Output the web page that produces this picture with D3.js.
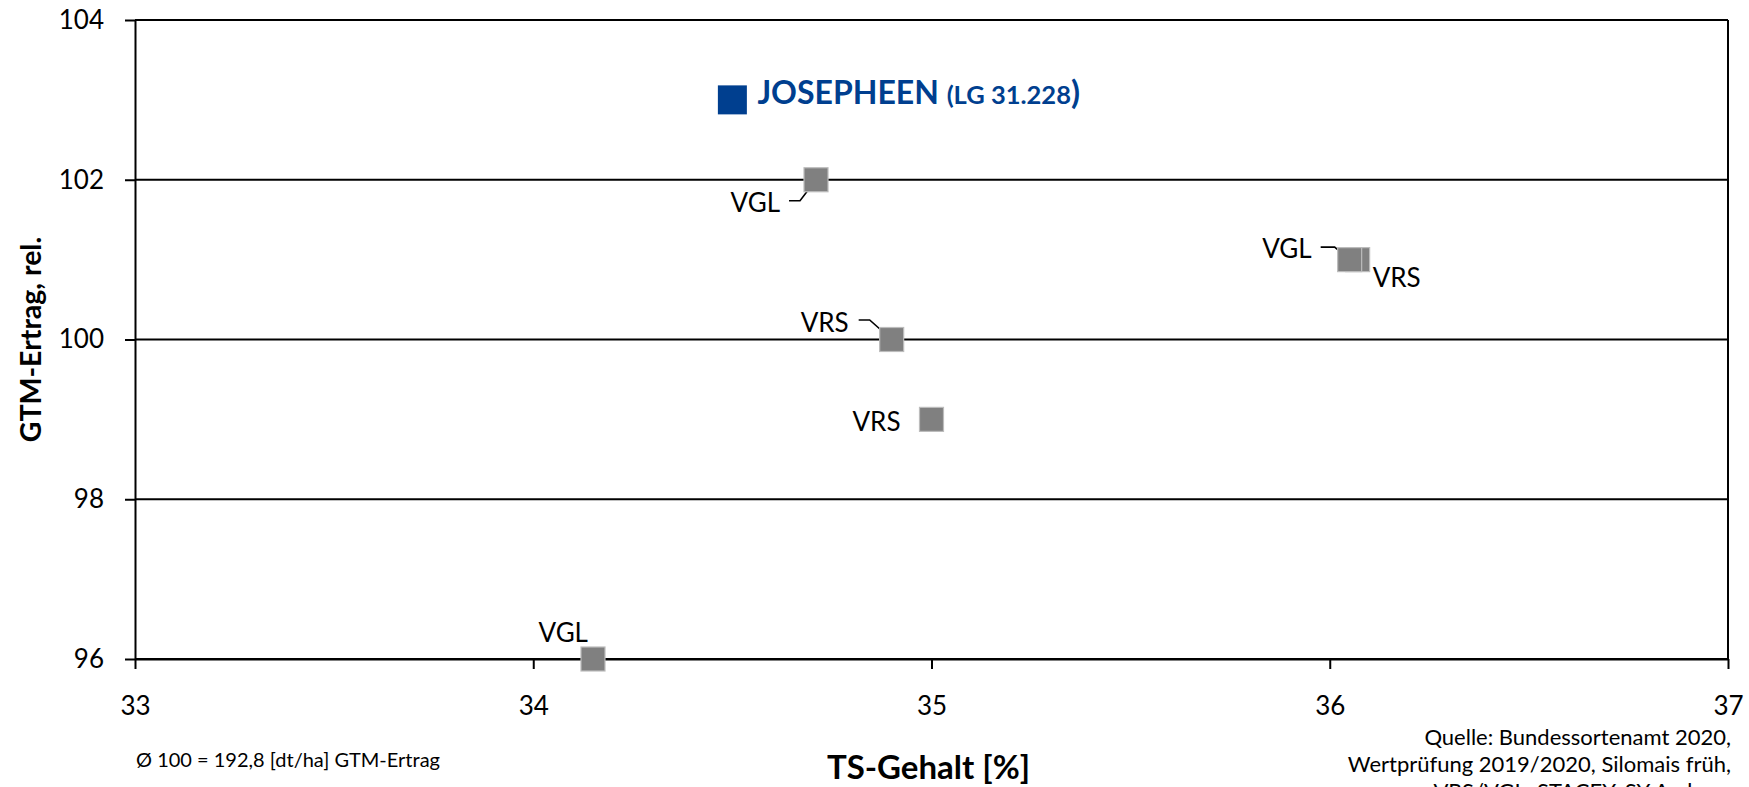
<!DOCTYPE html>
<html>
<head>
<meta charset="utf-8">
<script src="https://cdn.jsdelivr.net/npm/d3@7"></script>
<style>
  html, body { margin: 0; padding: 0; background: #fff; }
  svg { display: block; font-family: Lato, "Open Sans", sans-serif; }
</style>
</head>
<body>
<svg id="chart" width="1749" height="787"></svg>
<script>
// ---------- data ----------
const pointNames = ["VRS", "VRS", "VRS", "VGL", "VGL", "VGL", "JOSEPHEEN"];
const tsGehalt   = [36.07, 34.9, 35.0, 34.71, 36.05, 34.15, 34.5];
const gtmErtrag  = [101, 100, 99, 102, 101, 96, 103];
const highlightSuffix = "LG 31.228";
const xTicks = [33, 34, 35, 36, 37];
const yTicks = [96, 98, 100, 102, 104];
const xTitle = "TS-Gehalt [%]";
const yTitle = "GTM-Ertrag, rel.";
const noteText = "Ø 100 = 192,8 [dt/ha] GTM-Ertrag";
const sourceLines = ["Quelle: Bundessortenamt 2020,", "Wertprüfung 2019/2020, Silomais früh,", "VRS/VGL: STACEY, SY Amboss"];

// ---------- label layout (offsets from marker centre, px) ----------
const labelLayout = [
  { dx: 15,  dy: 27.5, anchor: "start", leader: null },
  { dx: -43, dy: -7.5, anchor: "end",   leader: [[-33, -19.5], [-22, -19.5], [0, 0]] },
  { dx: -31, dy: 12,   anchor: "end",   leader: null },
  { dx: -36, dy: 32,   anchor: "end",   leader: [[-27, 21], [-16, 21], [0, 0]] },
  { dx: -38, dy: -1.5, anchor: "end",   leader: [[-29, -12.5], [-15, -12.5], [0, 0]] },
  { dx: -5,  dy: -17,  anchor: "end",   leader: null },
  { dx: 25,  dy: 4,    anchor: "start", leader: null }
];

const W = 1749, H = 787;
const margin = { left: 135, right: 21, top: 20, bottom: 128 };
const svg = d3.select("#chart");
const x = d3.scaleLinear().domain([33, 37]).range([margin.left, W - margin.right]);
const y = d3.scaleLinear().domain([96, 104]).range([H - margin.bottom, margin.top]);

const blue = "#003f8f";
const grey = "#808080";

// gridlines (horizontal)
svg.append("g")
  .selectAll("line")
  .data(yTicks)
  .join("line")
  .attr("x1", x(33)).attr("x2", x(37))
  .attr("y1", d => y(d)).attr("y2", d => y(d))
  .attr("stroke", "#000").attr("stroke-width", 2);

// right border
svg.append("line")
  .attr("x1", x(37)).attr("x2", x(37))
  .attr("y1", y(104)).attr("y2", y(96))
  .attr("stroke", "#000").attr("stroke-width", 2);

// axes
const yAxis = svg.append("g")
  .attr("transform", `translate(${x(33)},0)`)
  .call(d3.axisLeft(y).tickValues(yTicks).tickFormat(d3.format("d")).tickSize(10).tickPadding(21).tickSizeOuter(0));
yAxis.select(".domain").attr("stroke", "#000").attr("stroke-width", 2);
yAxis.selectAll(".tick line").attr("stroke", "#000").attr("stroke-width", 2);
yAxis.selectAll(".tick text")
  .attr("font-family", "Lato, sans-serif").attr("font-size", 26).attr("fill", "#000");

const xAxis = svg.append("g")
  .attr("transform", `translate(0,${y(96)})`)
  .call(d3.axisBottom(x).tickValues(xTicks).tickFormat(d3.format("d")).tickSize(10).tickPadding(28).tickSizeOuter(0));
xAxis.select(".domain").attr("stroke", "#000").attr("stroke-width", 2);
xAxis.selectAll(".tick line").attr("stroke", "#000").attr("stroke-width", 2);
xAxis.selectAll(".tick text")
  .attr("font-family", "Lato, sans-serif").attr("font-size", 26).attr("fill", "#000");

// points
const pts = pointNames.map((n, i) => ({ name: n, x: tsGehalt[i], y: gtmErtrag[i], lay: labelLayout[i] }));

// leader lines
svg.append("g")
  .selectAll("path")
  .data(pts.filter(p => p.lay.leader))
  .join("path")
  .attr("d", p => d3.line()(p.lay.leader.map(([a, b]) => [x(p.x) + a, y(p.y) + b])))
  .attr("fill", "none").attr("stroke", "#000").attr("stroke-width", 1.6);

// markers
svg.append("g")
  .selectAll("rect")
  .data(pts)
  .join("rect")
  .attr("x", p => x(p.x) - (p.name === "JOSEPHEEN" ? 14.5 : 12))
  .attr("y", p => y(p.y) - (p.name === "JOSEPHEEN" ? 14.5 : 12))
  .attr("width", p => p.name === "JOSEPHEEN" ? 29 : 24)
  .attr("height", p => p.name === "JOSEPHEEN" ? 29 : 24)
  .attr("fill", p => p.name === "JOSEPHEEN" ? blue : grey)
  .attr("stroke", p => p.name === "JOSEPHEEN" ? "none" : "#bcbcbc")
  .attr("stroke-width", 1.2);

// labels
const lbl = svg.append("g")
  .selectAll("text")
  .data(pts)
  .join("text")
  .attr("x", p => x(p.x) + p.lay.dx)
  .attr("y", p => y(p.y) + p.lay.dy)
  .attr("text-anchor", p => p.lay.anchor)
  .attr("font-size", 26)
  .attr("fill", "#000");

lbl.filter(p => p.name !== "JOSEPHEEN").text(p => p.name);

const hl = lbl.filter(p => p.name === "JOSEPHEEN")
  .attr("fill", blue).attr("font-weight", 700);
hl.append("tspan").attr("font-size", 32).text(p => p.name + " ");
hl.append("tspan").attr("font-size", 25.5).text("(" + highlightSuffix);
hl.append("tspan").attr("font-size", 33).text(")");

// axis titles
svg.append("text")
  .attr("x", (x(33) + x(37)) / 2 - 3).attr("y", 779)
  .attr("text-anchor", "middle")
  .attr("font-size", 33).attr("font-weight", 700)
  .text(xTitle);

svg.append("text")
  .attr("transform", `translate(41,${(y(96) + y(104)) / 2}) rotate(-90)`)
  .attr("text-anchor", "middle")
  .attr("font-size", 28.5).attr("font-weight", 700)
  .text(yTitle);

// note
svg.append("text")
  .attr("x", 136).attr("y", 767)
  .attr("font-size", 20)
  .text(noteText);

// source
svg.append("g")
  .selectAll("text")
  .data(sourceLines)
  .join("text")
  .attr("x", 1731)
  .attr("y", (d, i) => 745 + i * 27)
  .attr("text-anchor", "end")
  .attr("font-size", 22)
  .text(d => d);
</script>
</body>
</html>
